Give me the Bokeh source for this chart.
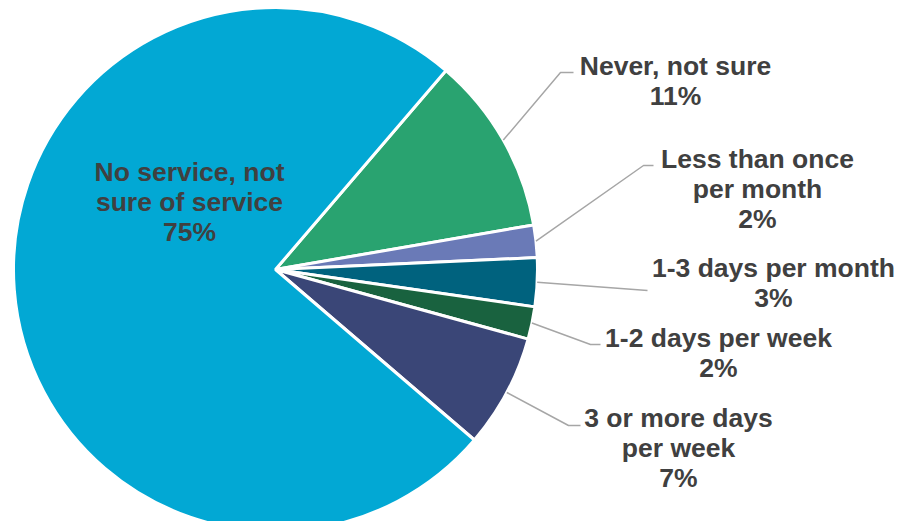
import math
from bokeh.plotting import figure
from bokeh.models import Range1d, ColumnDataSource
from bokeh.core.properties import value
from bokeh.embed import file_html
from bokeh.resources import INLINE

# ---- data ----
categories = ["Never, not sure", "Less than once per month", "1-3 days per month",
              "1-2 days per week", "3 or more days per week", "No service, not sure of service"]
percents = [11, 2, 3, 2, 7, 75]
labels = ["Never, not sure\n11%", "Less than once\nper month\n2%", "1-3 days per month\n3%",
          "1-2 days per week\n2%", "3 or more days\nper week\n7%",
          "No service, not\nsure of service\n75%"]
colors = ["#29A370", "#6A7AB7", "#00627E", "#19623F", "#3A4677", "#02A8D4"]

# ---- layout (screen pixel coords, y down) ----
W, H = 897, 521
CX, CY, R = 275, 269, 262
START_DEG = 49.4
label_pos = [(675, 80), (757, 188), (773, 282), (718, 352), (678, 447), (189, 201)]
leader_elbow = [(560, 72), (643, 165), (647, 290), (590, 344), (568, 425), None]
leader_end = [(573, 72), (653, 165), (647, 290), (600, 344), (580, 425), None]

def Y(sy):
    return 529 - sy

p = figure(width=W, height=H, output_backend="svg", toolbar_location=None,
           x_range=Range1d(0, W), y_range=Range1d(529 - H, 529),
           min_border=0)
p.axis.visible = False
p.grid.visible = False
p.outline_line_color = None
p.background_fill_color = "white"

total = sum(percents)
starts, ends = [], []
a = math.radians(START_DEG)
for v in percents:
    da = 2 * math.pi * v / total
    starts.append(a - da)
    ends.append(a)
    a -= da

src = ColumnDataSource(dict(start=starts, end=ends, color=colors))
p.wedge(x=CX, y=Y(CY), radius=R, radius_units="screen", start_angle="start", end_angle="end",
        fill_color="color", line_color="white", line_width=3, source=src)

# leader lines
xs, ys = [], []
for i in range(len(percents)):
    if leader_elbow[i] is None:
        continue
    mid = (starts[i] + ends[i]) / 2
    sx0 = CX + R * math.cos(mid)
    sy0 = CY - R * math.sin(mid)
    ex, ey = leader_elbow[i]
    fx, fy = leader_end[i]
    xs.append([sx0, ex, fx])
    ys.append([Y(sy0), Y(ey), Y(fy)])
p.multi_line(xs=xs, ys=ys, line_color="#A6A6A6", line_width=1.5)

lsrc = ColumnDataSource(dict(x=[q[0] for q in label_pos], y=[Y(q[1]) for q in label_pos], text=labels))
p.text(x="x", y="y", text="text", source=lsrc, text_align="center", text_baseline="middle",
       text_font=value("Liberation Sans"), text_font_style="bold", text_font_size="26.5px",
       text_color="#404040", text_line_height=1.0)

open("out.html", "w").write(file_html(p, INLINE))
